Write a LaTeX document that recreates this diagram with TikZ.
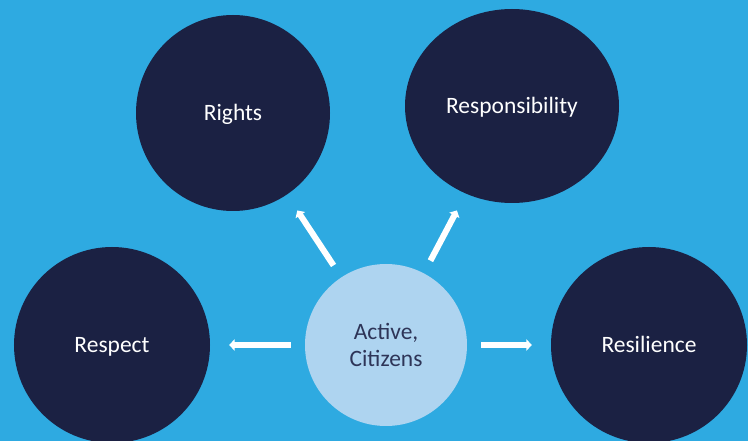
\documentclass[tikz,border=0pt]{standalone}
\usepackage{fontspec}
\setmainfont{Carlito}
\usetikzlibrary{shapes.geometric,arrows.meta}
\definecolor{skyback}{HTML}{2EAAE1}
\definecolor{navyfill}{HTML}{1B2143}
\definecolor{palefill}{HTML}{AED4F0}
\definecolor{inktext}{HTML}{2E3558}

\begin{document}
\begin{tikzpicture}[>={Triangle[length=4pt,width=8pt]},font=\fontsize{16.7}{18.6}\selectfont]
        \fill[skyback] (0,0) rectangle (18.7,11.025);
        \clip (0,0) rectangle (18.7,11.025);
        \tikzset{
            value/.style={ellipse, fill=navyfill, text=white, inner sep=0pt, text height=14pt, text depth=3.3pt, minimum width=4.9cm, minimum height=4.9cm},
            link/.style={->, white, line width=4.3pt, shorten <=0.35cm, shorten >=0.47cm}
        }
        \node (active) [circle, fill=palefill, text=inktext, align=center, inner sep=0pt, minimum size=4.05cm] at (9.65,2.4) {Active,\\Citizens};
        \node (rights) [value, minimum width=4.85cm, node distance=5.8cm, above of=active, xshift=-3.825cm] {Rights};
        \node (resp) [value, minimum width=5.35cm, minimum height=4.85cm, node distance=5.975cm, above of=active, xshift=3.15cm] {Responsibility};
        \node (respect) [value, node distance=6.85cm, left of=active] {Respect};
        \node (resil) [value, node distance=6.575cm, right of=active] {Resilience};
        
        \draw[link] (active) -- (rights);
        \draw[link] (active) -- (resp);
        \draw[link] (active) -- (respect);
        \draw[link] (active) -- (resil);
    \end{tikzpicture}
\end{document}
